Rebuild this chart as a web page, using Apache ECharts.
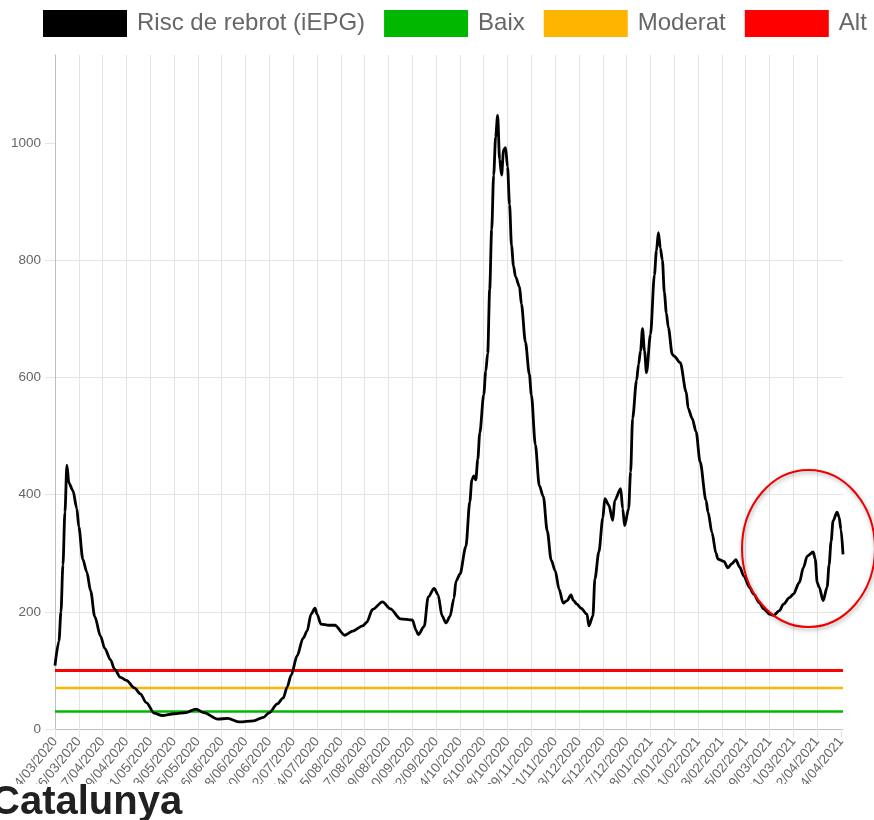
<!DOCTYPE html>
<html>
<head>
<meta charset="utf-8">
<script src="https://cdn.jsdelivr.net/npm/echarts@6/dist/echarts.min.js"></script>
<style>
  html, body { margin: 0; padding: 0; background: #fff; width: 874px; height: 820px; overflow: hidden; position: relative; }
  #chart { width: 874px; height: 784px; }
  h2 { position: absolute; left: -9px; top: 780px; margin: 0; font: bold 40px/40px "Liberation Sans", Arial, sans-serif; color: #212121; }
</style>
</head>
<body>
<div id="chart"></div>
<h2>Catalunya</h2>
<script>
// x axis: one tick every 12 days, starting 14/03/2020 (day 0)
const dateLabels = [
  '14/03/2020', '26/03/2020', '07/04/2020', '19/04/2020', '01/05/2020', '13/05/2020',
  '25/05/2020', '06/06/2020', '18/06/2020', '30/06/2020', '12/07/2020', '24/07/2020',
  '05/08/2020', '17/08/2020', '29/08/2020', '10/09/2020', '22/09/2020', '04/10/2020',
  '16/10/2020', '28/10/2020', '09/11/2020', '21/11/2020', '03/12/2020', '15/12/2020',
  '27/12/2020', '08/01/2021', '20/01/2021', '01/02/2021', '13/02/2021', '25/02/2021',
  '09/03/2021', '21/03/2021', '02/04/2021', '14/04/2021'
];
const tickStep = 12;
const lastDay = 397;
const yTicks = [0, 200, 400, 600, 800, 1000];

// iEPG (day offset from 14/03/2020)
const dayOffset = [
  0, 2, 3, 4, 5, 6, 7, 9, 11, 12, 14, 16, 18, 20, 23, 25, 28, 30, 33, 36,
  40, 43, 46, 50, 54, 60, 66, 71, 75, 82, 87, 93, 100, 105, 108, 112, 115, 117, 119, 122,
  125, 127, 129, 131, 132, 134, 138, 141, 146, 150, 155, 157, 160, 165, 169, 174, 180, 182, 183, 186,
  188, 191, 193, 195, 197, 199, 201, 202, 204, 207, 209, 210, 211, 212, 213, 214, 216, 217, 218, 219,
  220, 221, 222, 223, 224, 225, 226, 227, 228, 229, 230, 231, 232, 234, 235, 237, 239, 240, 242, 244,
  246, 248, 250, 252, 254, 256, 258, 260, 261, 263, 265, 268, 269, 271, 272, 274, 276, 277, 279, 281,
  282, 285, 286, 287, 289, 290, 291, 293, 294, 295, 296, 297, 298, 300, 302, 303, 304, 305, 306, 307,
  308, 309, 311, 312, 315, 318, 319, 321, 323, 325, 328, 329, 331, 333, 334, 337, 339, 341, 343, 345,
  347, 350, 352, 355, 357, 360, 362, 365, 367, 370, 372, 375, 377, 379, 382, 383, 384, 385, 387, 389,
  390, 391, 392, 394, 395, 396, 397
];
const iepg = [
  108, 150, 200, 280, 370, 450, 420, 407, 376, 345, 290, 268, 235, 192, 158, 138, 118, 102, 88, 83,
  70, 60, 45, 27, 23, 26, 28, 34, 28, 17, 18, 12, 14, 20, 28, 43, 53, 72, 92, 125,
  155, 167, 196, 206, 196, 179, 177, 177, 160, 167, 176, 182, 204, 217, 205, 188, 186, 168, 161, 175,
  225, 240, 229, 193, 181, 192, 223, 252, 264, 311, 388, 425, 432, 425, 460, 505, 570, 610, 641, 750,
  852, 945, 1010, 1047, 972, 945, 988, 992, 959, 895, 825, 790, 772, 755, 725, 660, 605, 570, 485, 415,
  397, 338, 288, 270, 238, 215, 219, 229, 220, 213, 206, 196, 176, 193, 256, 302, 360, 393, 382, 356,
  390, 410, 376, 347, 376, 439, 530, 595, 622, 645, 683, 645, 608, 673, 775, 816, 847, 820, 800, 745,
  710, 685, 639, 636, 625, 575, 547, 530, 507, 456, 390, 370, 335, 300, 290, 286, 275, 282, 289, 276,
  261, 241, 230, 215, 205, 196, 194, 202, 213, 224, 230, 250, 275, 295, 302, 290, 250, 242, 219, 242,
  280, 320, 355, 370, 362, 340, 298
];

// risk thresholds
const thresholdNames = ['Baix', 'Moderat', 'Alt'];
const thresholdValues = [30, 70, 100];
const thresholdColors = ['#00b800', '#ffb400', '#ff0000'];

const xTicks = dateLabels.map((_, i) => i * tickStep);
const gridColor = '#e4e4e4';
const axisColor = '#bdbdbd';

const chart = echarts.init(document.getElementById('chart'), null, { renderer: 'canvas' });

const thresholdSeries = thresholdNames.map((name, i) => ({
  name,
  type: 'line',
  data: [[0, thresholdValues[i]], [lastDay, thresholdValues[i]]],
  symbol: 'none',
  color: thresholdColors[i],
  lineStyle: { color: thresholdColors[i], width: i === 2 ? 3 : 2.5 },
  z: 2
}));

chart.setOption({
  animation: false,
  textStyle: { fontFamily: '"Liberation Sans", Arial, sans-serif' },
  legend: {
    data: ['Risc de rebrot (iEPG)', ...thresholdNames],
    left: 43,
    top: 10,
    padding: 0,
    icon: 'rect',
    itemWidth: 84,
    itemHeight: 27,
    itemGap: 19,
    textStyle: { fontSize: 24, color: '#666', padding: [0, 0, 0, 5] }
  },
  grid: { left: 55, right: 31, top: 55, bottom: 55, outerBoundsMode: 'none' },
  xAxis: {
    type: 'value',
    min: 0,
    max: lastDay,
    axisLine: { show: true, lineStyle: { color: axisColor } },
    axisTick: { show: true, customValues: xTicks, length: 8, lineStyle: { color: gridColor } },
    axisLabel: {
      customValues: xTicks,
      rotate: 51,
      margin: 10,
      fontSize: 13.5,
      color: '#666',
      formatter: (v) => dateLabels[Math.round(v / tickStep)] || ''
    },
    splitLine: { show: true, showMaxLine: false, lineStyle: { color: gridColor } }
  },
  yAxis: {
    type: 'value',
    min: 0,
    max: 1150,
    axisLine: { show: true, lineStyle: { color: axisColor } },
    axisTick: { show: true, customValues: yTicks, length: 10, lineStyle: { color: gridColor } },
    axisLabel: { customValues: yTicks, margin: 14, fontSize: 13.5, color: '#666', formatter: (v) => String(v) },
    splitLine: { show: true, showMaxLine: false, lineStyle: { color: gridColor } }
  },
  series: [
    {
      name: 'Risc de rebrot (iEPG)',
      type: 'line',
      data: dayOffset.map((d, i) => [d, iepg[i]]),
      symbol: 'none',
      smooth: 0.3,
      smoothMonotone: 'x',
      color: '#000',
      lineStyle: { color: '#000', width: 2.8 },
      z: 3
    },
    ...thresholdSeries
  ],
  graphic: [
    {
      type: 'ellipse',
      shape: { cx: 808.5, cy: 548.5, rx: 66.5, ry: 78.5 },
      style: {
        fill: 'none',
        stroke: '#ee0000',
        lineWidth: 2,
        shadowBlur: 4,
        shadowColor: 'rgba(0,0,0,0.35)',
        shadowOffsetX: 1,
        shadowOffsetY: 2
      },
      z: 10
    }
  ]
});
</script>
</body>
</html>
